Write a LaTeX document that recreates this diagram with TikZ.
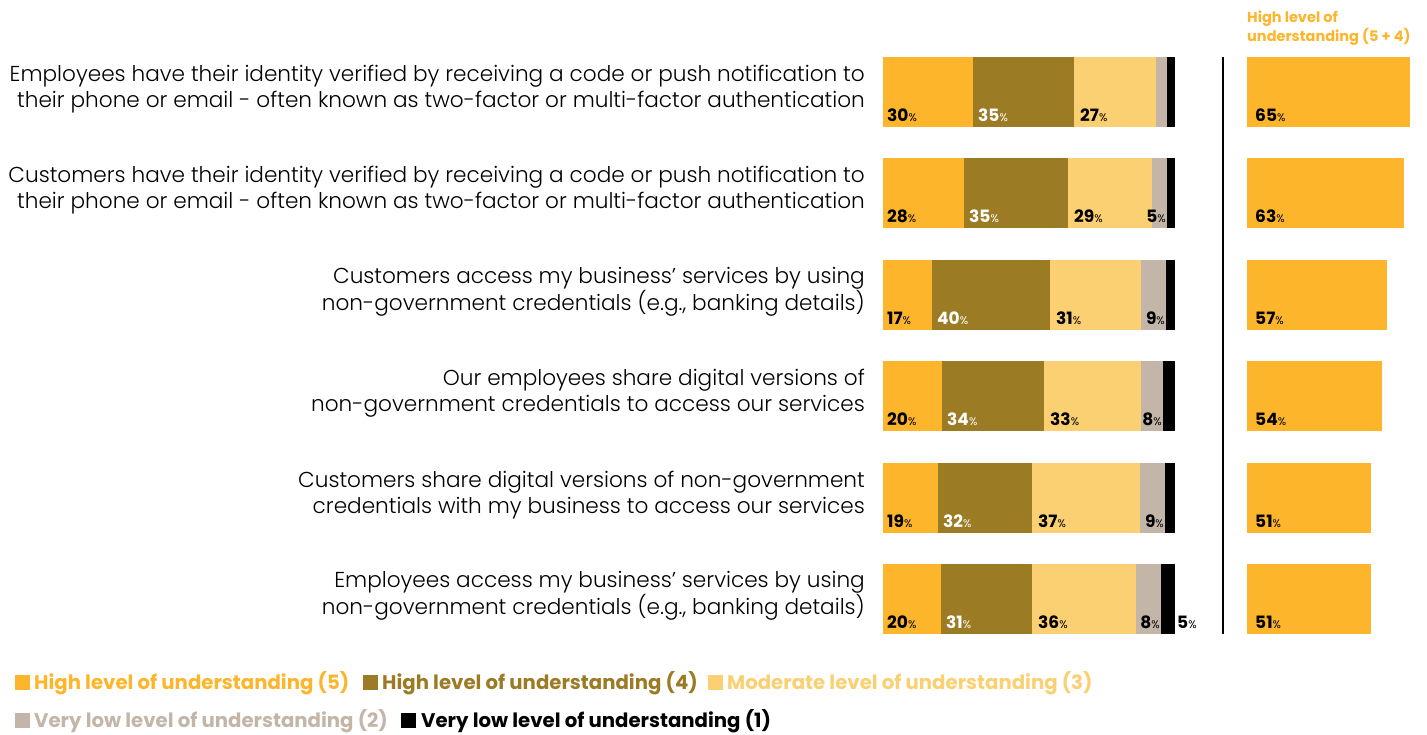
\documentclass[tikz,border=0pt]{standalone}
\usepackage{fontspec}
\setmainfont{Poppins}
\newfontfamily\lightfont{Poppins Light}
\definecolor{cA}{HTML}{FDB52B}
\definecolor{cB}{HTML}{9C7B25}
\definecolor{cC}{HTML}{FAD072}
\definecolor{cD}{HTML}{C3B6A8}
\newcommand\pc{{\mdseries\fontsize{11}{11}\selectfont\%}}
\tikzset{
  num/.style={anchor=base west, inner sep=0pt, font=\bfseries\fontsize{17}{17}\selectfont},
  rowlab/.style={anchor=east, inner sep=0pt, align=right, font=\lightfont\fontsize{21.6}{25.5}\selectfont},
  legtxt/.style={anchor=base west, inner sep=0pt, font=\bfseries\fontsize{19.7}{19.7}\selectfont},
}
\begin{document}
\begin{tikzpicture}[x=1pt,y=-1pt]
\useasboundingbox (0,0) rectangle (1427,734);
\foreach \i/\t/\a/\b/\c/\d/\va/\vb/\vc/\vd/\w/\vt in {
1/57/973/1074/1156/1167/30/35/27/0/1410/65,
2/158/964/1068/1152/1167/28/35/29/5/1404/63,
3/260/932/1050/1141/1166/17/40/31/9/1387/57,
4/361/942/1044/1141/1163/20/34/33/8/1382/54,
5/463/938/1032/1140/1165/19/32/37/9/1371/51,
6/564/941/1032/1136/1161/20/31/36/8/1371/51}{
  \fill[cA] (883,\t) rectangle (\a,\t+70);
  \fill[cB] (\a,\t) rectangle (\b,\t+70);
  \fill[cC] (\b,\t) rectangle (\c,\t+70);
  \fill[cD] (\c,\t) rectangle (\d,\t+70);
  \fill[black] (\d,\t) rectangle (1175,\t+70);
  \fill[cA] (1247,\t) rectangle (\w,\t+70);
  \node[num] (a\i) at (887,\t+64) {\va\pc};
  \node[num,text=white] (b\i) at (\a+5,\t+64) {\vb\pc};
  \node[num] (c\i) at (\b+6,\t+64) {\vc\pc};
  \ifnum\vd>0 \node[num,anchor=base east] (d\i) at (\d-1,\t+64) {\vd\pc};\fi
  \node[num] (t\i) at (1255,\t+64) {\vt\pc};
}
\node[num] (e6) at (1177,628) {5\pc};
\coordinate (vtop) at (1223,57);
\coordinate (vbot) at (1223,634);
\draw[line width=2pt] (vtop) -- (vbot);
\node[anchor=north west, inner sep=0pt, align=left, text=cA, font=\bfseries\fontsize{14.5}{19}\selectfont] (hdr) at (1247,11) {High level of\\understanding (5 + 4)};
\node[rowlab] (l1) at (865,89) {Employees have their identity verified by receiving a code or push notification to\\their phone or email - often known as two-factor or multi-factor authentication};
\node[rowlab] (l2) at (865,190) {Customers have their identity verified by receiving a code or push notification to\\their phone or email - often known as two-factor or multi-factor authentication};
\node[rowlab] (l3) at (865,292) {Customers access my business’ services by using\\non-government credentials (e.g., banking details)};
\node[rowlab] (l4) at (865,393) {Our employees share digital versions of\\non-government credentials to access our services};
\node[rowlab] (l5) at (865,495) {Customers share digital versions of non-government\\credentials with my business to access our services};
\node[rowlab] (l6) at (865,596) {Employees access my business’ services by using\\non-government credentials (e.g., banking details)};
% legend
\fill[cA] (15,675) rectangle (30,690);
\node[legtxt,text=cA] (g1) at (34,689) {High level of understanding (5)};
\fill[cB] (363,675) rectangle (378,690);
\node[legtxt,text=cB] (g2) at (382,689) {High level of understanding (4)};
\fill[cC] (708,675) rectangle (723,690);
\node[legtxt,text=cC] (g3) at (727,689) {Moderate level of understanding (3)};
\fill[cD] (15,713) rectangle (30,728);
\node[legtxt,text=cD] (g4) at (34,727) {Very low level of understanding (2)};
\fill[black] (401,713) rectangle (416,728);
\node[legtxt,text=black] (g5) at (421,727) {Very low level of understanding (1)};
\end{tikzpicture}
\end{document}
